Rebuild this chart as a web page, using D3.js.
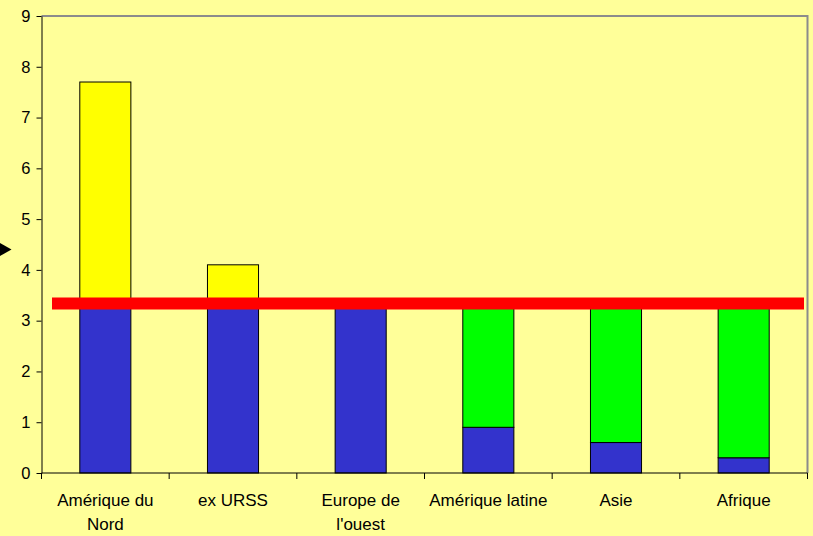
<!DOCTYPE html>
<html>
<head>
<meta charset="utf-8">
<script src="https://cdn.jsdelivr.net/npm/d3@7"></script>
<style>
  body { margin: 0; background: #ffff99; }
  text { font-family: "Liberation Sans", Arial, sans-serif; fill: #000; }
</style>
</head>
<body>
<svg id="viz" width="813" height="536"></svg>
<script>
// data
const regions = ["Amérique du Nord", "ex URSS", "Europe de l'ouest", "Amérique latine", "Asie", "Afrique"];
const region_lines = [["Amérique du", "Nord"], ["ex URSS"], ["Europe de", "l'ouest"], ["Amérique latine"], ["Asie"], ["Afrique"]];
const blue_part = [3.3, 3.3, 3.3, 0.9, 0.6, 0.3];
const green_part = [0, 0, 0, 2.4, 2.7, 3.0];
const yellow_part = [4.4, 0.8, 0, 0, 0, 0];
const average_line = 3.34;
const y_ticks = [0, 1, 2, 3, 4, 5, 6, 7, 8, 9];

const colors = { blue: "#3333cc", green: "#00ff00", yellow: "#ffff00" };

let svg = d3.select("#viz");
let width = parseInt(svg.attr("width"));
let height = parseInt(svg.attr("height"));

svg.append("rect").attr("width", width).attr("height", height).attr("fill", "#ffff99");

const plot = { left: 41.5, right: 807.5, top: 16, bottom: 473 };

let x = d3.scaleBand()
    .domain(regions)
    .range([plot.left, plot.right])
    .paddingInner(0.6)
    .paddingOuter(0.3);

let y = d3.scaleLinear()
    .domain([0, 9])
    .range([plot.bottom, plot.top]);

// top and right border in grey
svg.append("path")
    .attr("d", `M${plot.left},${plot.top}H${plot.right}V${plot.bottom}`)
    .attr("fill", "none")
    .attr("stroke", "#8c8c8c")
    .attr("stroke-width", 2);

// stacked bars
let rows = regions.map((r, i) => ({ region: r, blue: blue_part[i], green: green_part[i], yellow: yellow_part[i] }));
let stack = d3.stack().keys(["blue", "green", "yellow"])(rows);

let layers = svg.append("g").selectAll("g")
    .data(stack)
    .join("g")
    .attr("fill", d => colors[d.key]);

layers.selectAll("rect")
    .data(d => d.filter(s => s[1] - s[0] > 0))
    .join("rect")
    .attr("x", d => x(d.data.region))
    .attr("width", x.bandwidth())
    .attr("y", d => y(d[1]))
    .attr("height", d => y(d[0]) - y(d[1]))
    .attr("stroke", "#000")
    .attr("stroke-width", 1);

// y axis
let yAxis = svg.append("g")
    .attr("transform", `translate(${plot.left},0)`)
    .call(d3.axisLeft(y).tickValues(y_ticks).tickSize(5).tickPadding(6).tickSizeOuter(0));
yAxis.selectAll("text").style("font-size", "16.5px").attr("font-family", null);
yAxis.select(".domain").attr("stroke", "#000");

// x axis: ticks at the band boundaries
let xg = svg.append("g");
xg.append("line")
    .attr("x1", plot.left).attr("x2", plot.right)
    .attr("y1", plot.bottom).attr("y2", plot.bottom)
    .attr("stroke", "#000");
let step = x.step();
let bounds = d3.range(regions.length + 1).map(i => x(regions[0]) - x.paddingOuter() * step + i * step);
xg.selectAll(".xtick")
    .data(bounds)
    .join("line")
    .attr("x1", d => d).attr("x2", d => d)
    .attr("y1", plot.bottom).attr("y2", plot.bottom + 6)
    .attr("stroke", "#000");

let labels = xg.selectAll(".xlab")
    .data(regions)
    .join("text")
    .attr("text-anchor", "middle")
    .style("font-size", "17px")
    .attr("transform", d => `translate(${x(d) + x.bandwidth() / 2},${plot.bottom + 33})`);
labels.selectAll("tspan")
    .data((d, i) => region_lines[i])
    .join("tspan")
    .attr("x", 0)
    .attr("dy", (d, i) => i == 0 ? 0 : 24)
    .text(d => d);

// red average line
svg.append("line")
    .attr("x1", 52).attr("x2", 804)
    .attr("y1", y(average_line)).attr("y2", y(average_line))
    .attr("stroke", "#ff0000")
    .attr("stroke-width", 12);

// small arrow on the left edge
let ay = y(average_line) - 54;
svg.append("path")
    .attr("d", `M0,${ay - 6.5}L11.5,${ay}L0,${ay + 6.5}Z`)
    .attr("fill", "#000");
</script>
</body>
</html>
